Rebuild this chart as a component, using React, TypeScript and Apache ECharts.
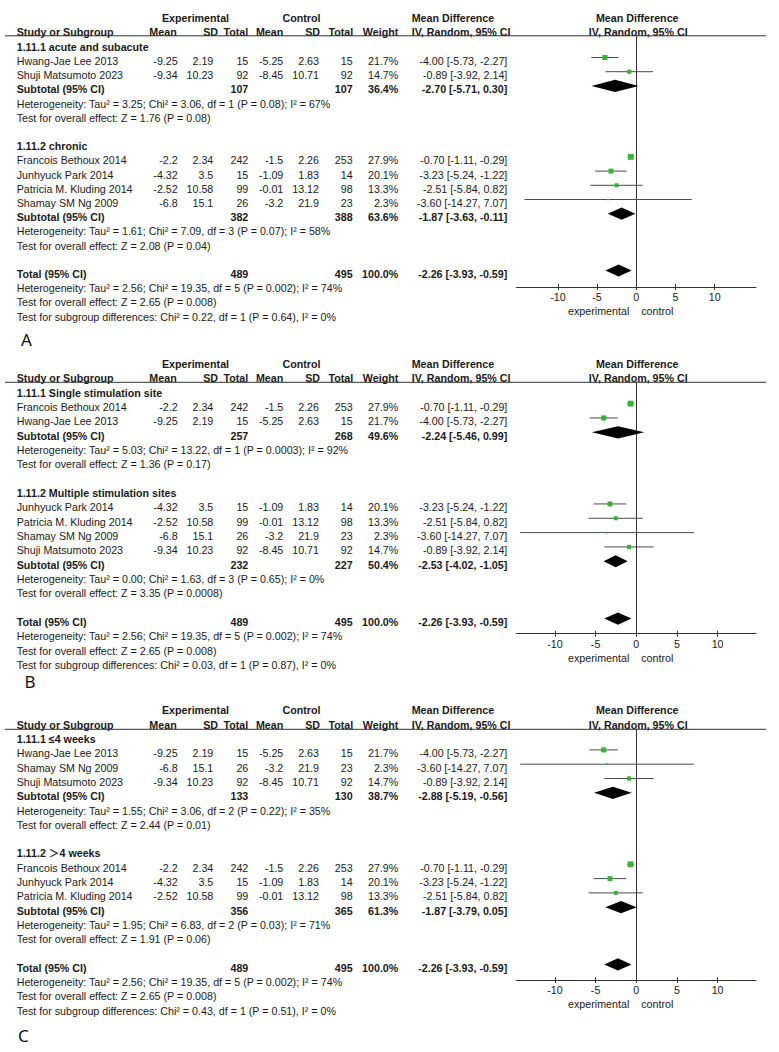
import React, { useEffect, useRef } from 'react';
import * as echarts from 'echarts';

// ---------- study data ----------
const studyNames = ['Hwang-Jae Lee 2013', 'Shuji Matsumoto 2023', 'Francois Bethoux 2014', 'Junhyuck Park 2014', 'Patricia M. Kluding 2014', 'Shamay SM Ng 2009'];
const expMean = [-9.25, -9.34, -2.2, -4.32, -2.52, -6.8];
const expSD = [2.19, 10.23, 2.34, 3.5, 10.58, 15.1];
const expTotal = [15, 92, 242, 15, 99, 26];
const ctlMean = [-5.25, -8.45, -1.5, -1.09, -0.01, -3.2];
const ctlSD = [2.63, 10.71, 2.26, 1.83, 13.12, 21.9];
const ctlTotal = [15, 92, 253, 14, 98, 23];
const studyWeight = [21.7, 14.7, 27.9, 20.1, 13.3, 2.3];
const studyMD = [-4.0, -0.89, -0.7, -3.23, -2.51, -3.6];
const studyLow = [-5.73, -3.92, -1.11, -5.24, -5.84, -14.27];
const studyHigh = [-2.27, 2.14, -0.29, -1.22, 0.82, 7.07];

// ---------- panel A ----------
const groupTitlesA = ['1.11.1 acute and subacute', '1.11.2 chronic'];
const groupMembersA = [[0, 1], [2, 3, 4, 5]];
const subExpTotalA = [107, 382];
const subCtlTotalA = [107, 388];
const subWeightA = [36.4, 63.6];
const subMDA = [-2.7, -1.87];
const subLowA = [-5.71, -3.63];
const subHighA = [0.3, -0.11];
const subHetA = ['Heterogeneity: Tau² = 3.25; Chi² = 3.06, df = 1 (P = 0.08); I² = 67%', 'Heterogeneity: Tau² = 1.61; Chi² = 7.09, df = 3 (P = 0.07); I² = 58%'];
const subTestA = ['Test for overall effect: Z = 1.76 (P = 0.08)', 'Test for overall effect: Z = 2.08 (P = 0.04)'];
const subgroupDiffA = 'Test for subgroup differences: Chi² = 0.22, df = 1 (P = 0.64), I² = 0%';

// ---------- panel B ----------
const groupTitlesB = ['1.11.1 Single stimulation site', '1.11.2 Multiple stimulation sites'];
const groupMembersB = [[2, 0], [3, 4, 5, 1]];
const subExpTotalB = [257, 232];
const subCtlTotalB = [268, 227];
const subWeightB = [49.6, 50.4];
const subMDB = [-2.24, -2.53];
const subLowB = [-5.46, -4.02];
const subHighB = [0.99, -1.05];
const subHetB = ['Heterogeneity: Tau² = 5.03; Chi² = 13.22, df = 1 (P = 0.0003); I² = 92%', 'Heterogeneity: Tau² = 0.00; Chi² = 1.63, df = 3 (P = 0.65); I² = 0%'];
const subTestB = ['Test for overall effect: Z = 1.36 (P = 0.17)', 'Test for overall effect: Z = 3.35 (P = 0.0008)'];
const subgroupDiffB = 'Test for subgroup differences: Chi² = 0.03, df = 1 (P = 0.87), I² = 0%';

// ---------- panel C ----------
const groupTitlesC = ['1.11.1 ≤4 weeks', '1.11.2 ＞4 weeks'];
const groupMembersC = [[0, 5, 1], [2, 3, 4]];
const subExpTotalC = [133, 356];
const subCtlTotalC = [130, 365];
const subWeightC = [38.7, 61.3];
const subMDC = [-2.88, -1.87];
const subLowC = [-5.19, -3.79];
const subHighC = [-0.56, 0.05];
const subHetC = ['Heterogeneity: Tau² = 1.55; Chi² = 3.06, df = 2 (P = 0.22); I² = 35%', 'Heterogeneity: Tau² = 1.95; Chi² = 6.83, df = 2 (P = 0.03); I² = 71%'];
const subTestC = ['Test for overall effect: Z = 2.44 (P = 0.01)', 'Test for overall effect: Z = 1.91 (P = 0.06)'];
const subgroupDiffC = 'Test for subgroup differences: Chi² = 0.43, df = 1 (P = 0.51), I² = 0%';

// ---------- overall ----------
const totalExpN = 489;
const totalCtlN = 495;
const totalWeight = 100.0;
const totalMD = -2.26;
const totalLow = -3.93;
const totalHigh = -0.59;
const totalHet = 'Heterogeneity: Tau² = 2.56; Chi² = 19.35, df = 5 (P = 0.002); I² = 74%';
const totalTest = 'Test for overall effect: Z = 2.65 (P = 0.008)';
const xTicks = [-10, -5, 0, 5, 10];
const panelLetters = ['A', 'B', 'C'];

const panels = [
  { titles: groupTitlesA, members: groupMembersA, subExp: subExpTotalA, subCtl: subCtlTotalA, subW: subWeightA, subMD: subMDA, subLo: subLowA, subHi: subHighA, het: subHetA, test: subTestA, diff: subgroupDiffA },
  { titles: groupTitlesB, members: groupMembersB, subExp: subExpTotalB, subCtl: subCtlTotalB, subW: subWeightB, subMD: subMDB, subLo: subLowB, subHi: subHighB, het: subHetB, test: subTestB, diff: subgroupDiffB },
  { titles: groupTitlesC, members: groupMembersC, subExp: subExpTotalC, subCtl: subCtlTotalC, subW: subWeightC, subMD: subMDC, subLo: subLowC, subHi: subHighC, het: subHetC, test: subTestC, diff: subgroupDiffC },
];

// ---------- layout ----------
const layouts = [
  { textTop: 46.7, step: 14.2, lineY: 35.8, axisY: 287, xMax: 15.28, letterX: 21, letterY: 339 },
  { textTop: 392.7, step: 14.33, lineY: 382.3, axisY: 633.7, xMax: 14.72, letterX: 24.5, letterY: 681.5 },
  { textTop: 739, step: 14.3, lineY: 729.3, axisY: 980, xMax: 14.72, letterX: 18, letterY: 1035 },
];
const FONT = '"Liberation Sans", Arial, "Noto Sans CJK SC", sans-serif';
const FS = 10.7;
const TXT = '#1a1a1a';
const LINE = '#333';
const GREEN = '#33b633';
const PLOT_LEFT = 516.5;
const PLOT_W = 239.5;
const PLOT_CENTER = PLOT_LEFT + PLOT_W / 2;
const MARK_OFF = -3.4;

const COL = {
  name: 16.7,
  expMean: 177.7, expSD: 213.3, expN: 248.3,
  ctlMean: 283.3, ctlSD: 319, ctlN: 352.7,
  weight: 398.3, md: 507.3, mdHead: 411.7,
};

function txt(text: string, x: number, y: number, align: string = 'left', bold = false) {
  return {
    type: 'text', x, y, silent: true,
    style: {
      text, fill: TXT, fontSize: FS, fontFamily: FONT, fontWeight: bold ? 'bold' : 'normal',
      align, verticalAlign: 'middle', textAlign: align, textVerticalAlign: 'middle',
    },
  };
}
const fmtCI = (m: number, l: number, h: number) => `${m.toFixed(2)} [${l.toFixed(2)}, ${h.toFixed(2)}]`;

function buildOption() {
  const grids: any[] = [];
  const xAxes: any[] = [];
  const yAxes: any[] = [];
  const series: any[] = [];
  const graphics: any[] = [];

  panels.forEach((P, pi) => {
    const L = layouts[pi];
    const rowY = (r: number) => L.textTop + r * L.step;
    const markerBase = L.textTop + MARK_OFF;

    grids.push({ left: PLOT_LEFT, width: PLOT_W, top: L.lineY, height: L.axisY - L.lineY });
    xAxes.push({
      gridIndex: pi, type: 'value', min: -L.xMax, max: L.xMax, position: 'bottom',
      axisLine: { onZero: false, lineStyle: { color: LINE, width: 1 } },
      axisTick: { show: true, length: 3, customValues: xTicks, lineStyle: { color: LINE } },
      axisLabel: { customValues: xTicks, margin: 5, color: TXT, fontSize: FS, fontFamily: FONT },
      splitLine: { show: false },
    });
    xAxes.push({
      gridIndex: pi, type: 'value', min: -L.xMax, max: L.xMax, position: 'bottom',
      axisLine: { show: false, onZero: false },
      axisTick: { show: true, inside: true, length: 3, customValues: xTicks, lineStyle: { color: LINE } },
      axisLabel: { show: false },
      splitLine: { show: false },
    });
    yAxes.push({
      gridIndex: pi, type: 'value', inverse: true,
      min: (L.lineY - markerBase) / L.step, max: (L.axisY - markerBase) / L.step,
      axisLine: { show: true, onZero: true, lineStyle: { color: LINE, width: 1 } },
      axisTick: { show: false }, axisLabel: { show: false }, splitLine: { show: false },
    });

    // headers
    const h1 = L.textTop - 28.8;
    const h2 = L.textTop - 14.3;
    graphics.push(txt('Experimental', 195.5, h1, 'center', true));
    graphics.push(txt('Control', 301.5, h1, 'center', true));
    graphics.push(txt('Mean Difference', COL.mdHead, h1, 'left', true));
    graphics.push(txt('Mean Difference', PLOT_CENTER + 1, h1, 'center', true));
    graphics.push(txt('Study or Subgroup', COL.name, h2, 'left', true));
    graphics.push(txt('Mean', 176.7, h2, 'right', true));
    graphics.push(txt('SD', 218, h2, 'right', true));
    graphics.push(txt('Total', 248.3, h2, 'right', true));
    graphics.push(txt('Mean', 283.3, h2, 'right', true));
    graphics.push(txt('SD', 320, h2, 'right', true));
    graphics.push(txt('Total', 353.3, h2, 'right', true));
    graphics.push(txt('Weight', 398.3, h2, 'right', true));
    graphics.push(txt('IV, Random, 95% CI', COL.mdHead, h2, 'left', true));
    graphics.push(txt('IV, Random, 95% CI', PLOT_CENTER + 2, h2, 'center', true));
    graphics.push({ type: 'line', silent: true, shape: { x1: 5, y1: L.lineY, x2: 766, y2: L.lineY }, style: { stroke: LINE, lineWidth: 1 } });

    const studyData: any[] = [];
    const diamondData: any[] = [];
    let r = 0;
    P.titles.forEach((title, g) => {
      graphics.push(txt(title, COL.name, rowY(r), 'left', true));
      r++;
      P.members[g].forEach((k) => {
        const y = rowY(r);
        graphics.push(txt(studyNames[k], COL.name, y));
        graphics.push(txt(String(expMean[k]), COL.expMean, y, 'right'));
        graphics.push(txt(String(expSD[k]), COL.expSD, y, 'right'));
        graphics.push(txt(String(expTotal[k]), COL.expN, y, 'right'));
        graphics.push(txt(String(ctlMean[k]), COL.ctlMean, y, 'right'));
        graphics.push(txt(String(ctlSD[k]), COL.ctlSD, y, 'right'));
        graphics.push(txt(String(ctlTotal[k]), COL.ctlN, y, 'right'));
        graphics.push(txt(studyWeight[k].toFixed(1) + '%', COL.weight, y, 'right'));
        graphics.push(txt(fmtCI(studyMD[k], studyLow[k], studyHigh[k]), COL.md, y, 'right'));
        studyData.push([studyMD[k], studyLow[k], studyHigh[k], r, studyWeight[k]]);
        r++;
      });
      const ys = rowY(r);
      graphics.push(txt('Subtotal (95% CI)', COL.name, ys, 'left', true));
      graphics.push(txt(String(P.subExp[g]), COL.expN, ys, 'right', true));
      graphics.push(txt(String(P.subCtl[g]), COL.ctlN, ys, 'right', true));
      graphics.push(txt(P.subW[g].toFixed(1) + '%', COL.weight, ys, 'right', true));
      graphics.push(txt(fmtCI(P.subMD[g], P.subLo[g], P.subHi[g]), COL.md, ys, 'right', true));
      diamondData.push([P.subMD[g], P.subLo[g], P.subHi[g], r]);
      r++;
      graphics.push(txt(P.het[g], COL.name, rowY(r)));
      r++;
      graphics.push(txt(P.test[g], COL.name, rowY(r)));
      r += 2;
    });
    const yt = rowY(r);
    graphics.push(txt('Total (95% CI)', COL.name, yt, 'left', true));
    graphics.push(txt(String(totalExpN), COL.expN, yt, 'right', true));
    graphics.push(txt(String(totalCtlN), COL.ctlN, yt, 'right', true));
    graphics.push(txt(totalWeight.toFixed(1) + '%', COL.weight, yt, 'right', true));
    graphics.push(txt(fmtCI(totalMD, totalLow, totalHigh), COL.md, yt, 'right', true));
    diamondData.push([totalMD, totalLow, totalHigh, r]);
    graphics.push(txt(totalHet, COL.name, rowY(r + 1)));
    graphics.push(txt(totalTest, COL.name, rowY(r + 2)));
    graphics.push(txt(P.diff, COL.name, rowY(r + 3)));

    graphics.push(txt('experimental', PLOT_CENTER - 7, L.axisY + 24.3, 'right'));
    graphics.push(txt('control', PLOT_CENTER + 5, L.axisY + 24.3, 'left'));
    graphics.push({
      type: 'text', x: L.letterX, y: L.letterY, silent: true,
      style: { text: panelLetters[pi], fill: '#111', fontSize: 17, fontFamily: '"Noto Sans", sans-serif', align: 'left', verticalAlign: 'middle', textAlign: 'left', textVerticalAlign: 'middle' },
    });

    series.push({
      type: 'custom', coordinateSystem: 'cartesian2d', xAxisIndex: pi * 2, yAxisIndex: pi,
      encode: { x: [0, 1, 2], y: 3 }, data: studyData, clip: false,
      renderItem: (params: any, api: any) => {
        const row = api.value(3);
        const p = api.coord([api.value(0), row]);
        const l = api.coord([api.value(1), row]);
        const h = api.coord([api.value(2), row]);
        const s = 1.1 * Math.sqrt(api.value(4));
        return {
          type: 'group',
          children: [
            { type: 'line', shape: { x1: l[0], y1: l[1], x2: h[0], y2: h[1] }, style: { stroke: '#4a4a4a', lineWidth: 1 } },
            { type: 'rect', shape: { x: p[0] - s / 2, y: p[1] - s / 2, width: s, height: s }, style: { fill: GREEN } },
          ],
        };
      },
    });
    series.push({
      type: 'custom', coordinateSystem: 'cartesian2d', xAxisIndex: pi * 2, yAxisIndex: pi,
      encode: { x: [0, 1, 2], y: 3 }, data: diamondData, clip: false,
      renderItem: (params: any, api: any) => {
        const row = api.value(3);
        const p = api.coord([api.value(0), row]);
        const l = api.coord([api.value(1), row]);
        const h = api.coord([api.value(2), row]);
        const hh = 6.1;
        return {
          type: 'polygon',
          shape: { points: [[l[0], p[1]], [p[0], p[1] - hh], [h[0], p[1]], [p[0], p[1] + hh]] },
          style: { fill: '#000' },
        };
      },
    });
  });

  return {
    animation: false,
    backgroundColor: '#fff',
    grid: grids,
    xAxis: xAxes,
    yAxis: yAxes,
    series,
    graphic: { elements: graphics },
  };
}

export default function App() {
  const ref = useRef<HTMLDivElement>(null);
  useEffect(() => {
    const chart = echarts.init(ref.current!, null, { renderer: 'svg' });
    chart.setOption(buildOption() as any);
    return () => chart.dispose();
  }, []);
  return <div ref={ref} style={{ position: 'absolute', left: 0, top: 0, width: 779, height: 1052, background: '#fff' }} />;
}
